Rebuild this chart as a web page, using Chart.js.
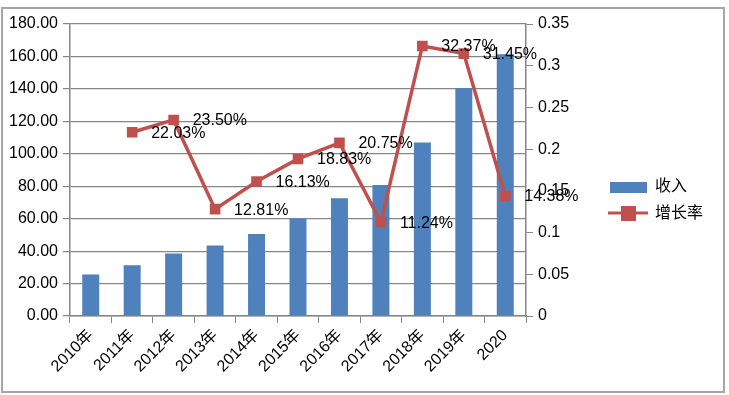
<!DOCTYPE html>
<html>
<head>
<meta charset="utf-8">
<script src="https://cdn.jsdelivr.net/npm/chart.js@4/dist/chart.umd.min.js"></script>
<style>
  html,body{margin:0;padding:0;background:#fff;}
  #wrap{position:relative;width:729px;height:395px;}
</style>
</head>
<body>
<div id="wrap"><canvas id="c" width="729" height="395"></canvas></div>
<script>
/* ─── DATA ─────────────────────────────── */
const YEARS   = ['2010年','2011年','2012年','2013年','2014年','2015年','2016年','2017年','2018年','2019年','2020'];
const REVENUE = [25.6, 31.3, 38.6, 43.5, 50.6, 60.1, 72.6, 80.8, 106.9, 140.5, 161.3];
const GROWTH  = [null, 0.2203, 0.2350, 0.1281, 0.1613, 0.1883, 0.2075, 0.1124, 0.3237, 0.3145, 0.1438];
const GROWTH_LABELS = ['', '22.03%','23.50%','12.81%','16.13%','18.83%','20.75%','11.24%','32.37%','31.45%','14.38%'];
const SERIES_NAMES  = ['收入','增长率'];

const BLUE = '#4F81BD', RED = '#C0504D', AXIS = '#868686';
const FONT = '"Liberation Sans", "Noto Sans CJK SC", sans-serif';

/* ─── PLUGINS ──────────────────────────── */
const frame = {
  id:'frame',
  beforeDraw(chart){
    const c = chart.ctx;
    c.save();
    c.fillStyle='#fff'; c.fillRect(0,0,chart.width,chart.height);
    c.strokeStyle='#a6a6a6'; c.lineWidth=2;
    c.strokeRect(2,8,722,384);
    c.restore();
  }
};

const pctLabels = {
  id:'pctLabels',
  afterDatasetsDraw(chart){
    const c = chart.ctx;
    const meta = chart.getDatasetMeta(0);
    c.save();
    c.font = '16px '+FONT;
    c.fillStyle = '#000';
    c.textAlign = 'left'; c.textBaseline = 'middle';
    meta.data.forEach((pt,i)=>{
      if(!GROWTH_LABELS[i]) return;
      c.fillText(GROWTH_LABELS[i], pt.x+19, pt.y+1);
    });
    c.restore();
  }
};

const sideLegend = {
  id:'sideLegend',
  afterDraw(chart){
    const c = chart.ctx;
    c.save();
    c.font = '16px '+FONT;
    c.textAlign = 'left'; c.textBaseline = 'middle';
    /* 收入 */
    c.fillStyle = BLUE; c.fillRect(610,182,37,11);
    c.fillStyle = '#000'; c.fillText(SERIES_NAMES[0], 655, 187);
    /* 增长率 */
    c.strokeStyle = RED; c.lineWidth = 3;
    c.beginPath(); c.moveTo(608,213); c.lineTo(648,213); c.stroke();
    c.fillStyle = RED; c.fillRect(621,206,15,15);
    c.fillStyle = '#000'; c.fillText(SERIES_NAMES[1], 655, 214);
    c.restore();
  }
};

/* ─── CHART ────────────────────────────── */
new Chart(document.getElementById('c').getContext('2d'),{
  data:{
    labels: YEARS,
    datasets:[
      {
        type:'line', label:SERIES_NAMES[1], data:GROWTH, yAxisID:'y1',
        borderColor:RED, backgroundColor:RED, borderWidth:3.5,
        pointStyle:'rect', pointRadius:7.5, pointHoverRadius:7.5,
        pointBackgroundColor:RED, pointBorderColor:RED, pointBorderWidth:0,
        tension:0, order:0, spanGaps:false
      },
      {
        type:'bar', label:SERIES_NAMES[0], data:REVENUE, yAxisID:'y',
        backgroundColor:BLUE, borderWidth:0,
        barPercentage:0.41, categoryPercentage:1, order:1
      }
    ]
  },
  options:{
    responsive:false, animation:false,
    layout:{ padding:{ top:24, left:0, right:0, bottom:0 } },
    plugins:{ legend:{display:false}, tooltip:{enabled:false} },
    scales:{
      x:{
        offset:true,
        grid:{ display:true, drawOnChartArea:false, drawTicks:true, tickLength:7, color:AXIS, offset:true },
        border:{ display:true, color:AXIS, width:1.5 },
        ticks:{ minRotation:45, maxRotation:45, autoSkip:false, color:'#000', padding:3, font:{size:16, family:FONT} },
        afterFit(s){ s.height = 79; }
      },
      y:{
        position:'left', min:0, max:180,
        ticks:{ stepSize:20, color:'#000', padding:5, font:{size:16, family:FONT}, callback:v=>v.toFixed(2) },
        grid:{ color:AXIS, lineWidth:1.2, tickLength:7 },
        border:{ display:true, color:AXIS, width:1.5 },
        afterFit(s){ s.width = 70; }
      },
      y1:{
        position:'right', min:0, max:0.35,
        ticks:{ stepSize:0.05, color:'#000', padding:5, font:{size:16, family:FONT}, callback:v=>String(+v.toFixed(2)) },
        grid:{ drawOnChartArea:false, color:AXIS, tickLength:7 },
        border:{ display:true, color:AXIS, width:1.5 },
        afterFit(s){ s.width = 203; }
      }
    }
  },
  plugins:[frame, pctLabels, sideLegend]
});
</script>
</body>
</html>
